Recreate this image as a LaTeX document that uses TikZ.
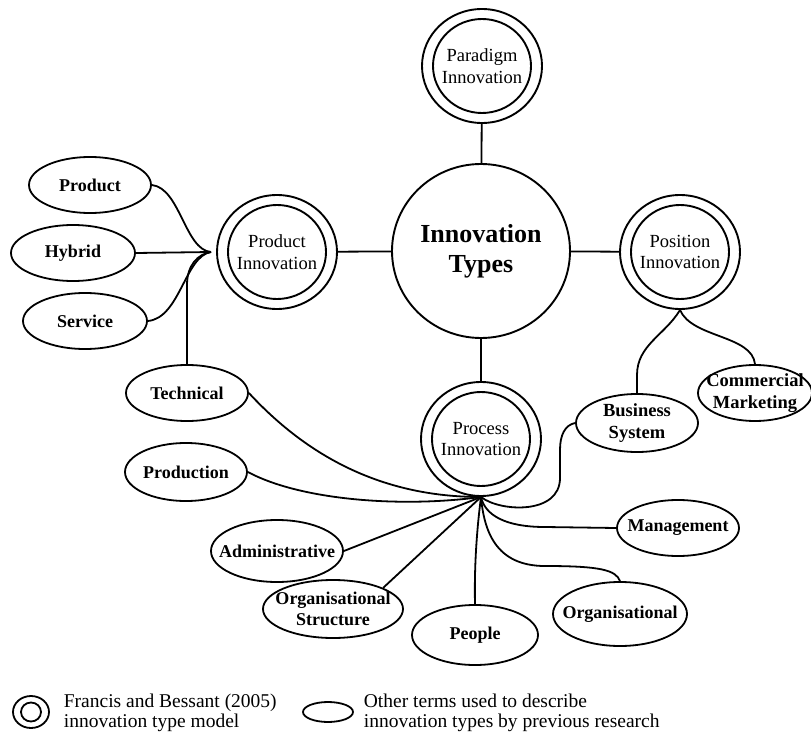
\documentclass[tikz,border=0pt]{standalone}
\usepackage{fontspec}
\setmainfont{Liberation Serif}
\usetikzlibrary{shapes.geometric}
\begin{document}
\begin{tikzpicture}[x=1pt,y=-1pt,line width=1.8pt,
  sm/.style={ellipse,draw,inner sep=0pt,line width=1.8pt},
  smtxt/.style={align=center,inner sep=0pt,font=\bfseries\fontsize{18}{21}\selectfont},
  smtxtb/.style={align=center,inner sep=0pt,font=\bfseries\fontsize{18.5}{22}\selectfont},
  dout/.style={ellipse,draw,inner sep=0pt,line width=1.9pt,minimum width=120,minimum height=114},
  din/.style={ellipse,draw,inner sep=0pt,line width=1.9pt,minimum width=98,minimum height=94},
  dtxt/.style={align=center,inner sep=0pt,font=\fontsize{18.5}{21.5}\selectfont},
  lgtxt/.style={align=left,inner sep=0pt,anchor=west,font=\fontsize{19.5}{20.5}\selectfont}]
\useasboundingbox (0,0) rectangle (811,738);

% central
\node[ellipse,draw,inner sep=0pt,line width=1.9pt,minimum width=178,minimum height=174,
  label={[align=center,inner sep=0pt,font=\bfseries\fontsize{26}{30}\selectfont]center:Innovation\\Types}] (main) at (481,251) {};

% double circles
\node[dout] (paraO) at (482,66) {};
\node[din,label={[dtxt]center:Paradigm\\Innovation}] (para) at (482,66) {};
\node[dout] (prodO) at (277,252) {};
\node[din,label={[dtxt]center:Product\\Innovation}] (prodI) at (277,252) {};
\node[dout] (posO) at (680,252) {};
\node[din,label={[dtxt]center:Position\\Innovation}] (posI) at (680,252) {};
\node[dout] (procO) at (481,439) {};
\node[din,label={[dtxt]center:Process\\Innovation}] (procI) at (481,439) {};

\draw (main) -- (paraO);
\draw (main) -- (prodO);
\draw (main) -- (posO);
\draw (main) -- (procO);

% small ellipses
\node[sm,minimum width=122,minimum height=56,label={[smtxt]center:Product}] (prod) at (90,185) {};
\node[sm,minimum width=124,minimum height=56,label={[smtxt]center:Hybrid}] (hyb) at (73,253) {};
\node[sm,minimum width=124,minimum height=56,label={[smtxt]center:Service}] (serv) at (85,321) {};
\node[sm,minimum width=122,minimum height=56,label={[smtxt]center:Technical}] (tech) at (187,393) {};
\node[sm,minimum width=122,minimum height=58,label={[smtxt]center:Production}] (prodn) at (186,472) {};
\node[sm,minimum width=132,minimum height=62,label={[smtxt]center:Administrative}] (adm) at (277,551) {};
\node[sm,minimum width=140,minimum height=58,label={[smtxt]center:Organisational\\Structure}] (orgs) at (333,609) {};
\node[sm,minimum width=126,minimum height=60,label={[smtxt]center:People}] (peop) at (475,635) {};
\node[sm,minimum width=134,minimum height=64,label={[smtxt]center:Organisational}] (orgl) at (620,614) {};
\node[sm,minimum width=122,minimum height=56,label={[smtxt]center:Management}] (mgmt) at (678,528) {};
\node[sm,minimum width=122,minimum height=58,label={[smtxtb]center:Business\\System}] (bus) at (637,423) {};
\node[sm,minimum width=114,minimum height=56,label={[smtxtb]center:Commercial\\Marketing}] (comm) at (755,393) {};

% hubs
\coordinate (hubP) at (211,252);
\coordinate (hubR) at (481,497);
\coordinate (hubS) at (680,310);

% product fan
\draw (prod.east) .. controls (180,188) and (185,250) .. (hubP);
\draw (hyb.east) -- (hubP);
\draw (serv.east) .. controls (180,318) and (185,256) .. (hubP);
\draw (tech.north) -- (187,285) .. controls (187,265) and (198,254) .. (hubP);

% position fan
\draw (hubS) .. controls (665,335) and (637,345) .. (637,375) -- (bus.north);
\draw (hubS) .. controls (692,338) and (752,335) .. (comm.north);

% process fan
\draw (tech.east) .. controls (320,470) and (400,497) .. (hubR);
\draw (prodn.east) .. controls (300,500) and (400,508) .. (hubR);
\draw (adm.east) -- (hubR);
\draw (orgs.north east) -- (hubR);
\draw (peop.north) .. controls (474,560) and (478,520) .. (hubR);
\draw (orgl.north) .. controls (616,570) and (600,566) .. (545,566) .. controls (495,566) and (484,530) .. (hubR);
\draw (mgmt.west) -- (545,527) .. controls (505,527) and (485,515) .. (hubR);
\draw (bus.west) .. controls (565,425) and (560,435) .. (560,450) -- (560,478) .. controls (560,515) and (500,512) .. (hubR);

% legend
\node[ellipse,draw,inner sep=0pt,line width=1.8pt,minimum width=36,minimum height=32] (lgO) at (31,712) {};
\node[ellipse,draw,inner sep=0pt,line width=1.8pt,minimum width=20,minimum height=19] (lgI) at (31,712) {};
\node[lgtxt] (lgA) at (63,713) {Francis and Bessant (2005)\\innovation type model};
\node[ellipse,draw,inner sep=0pt,line width=1.8pt,minimum width=50,minimum height=20] (lgE) at (328,712) {};
\node[lgtxt] (lgB) at (363,713) {Other terms used to describe\\innovation types by previous research};
\end{tikzpicture}
\end{document}
